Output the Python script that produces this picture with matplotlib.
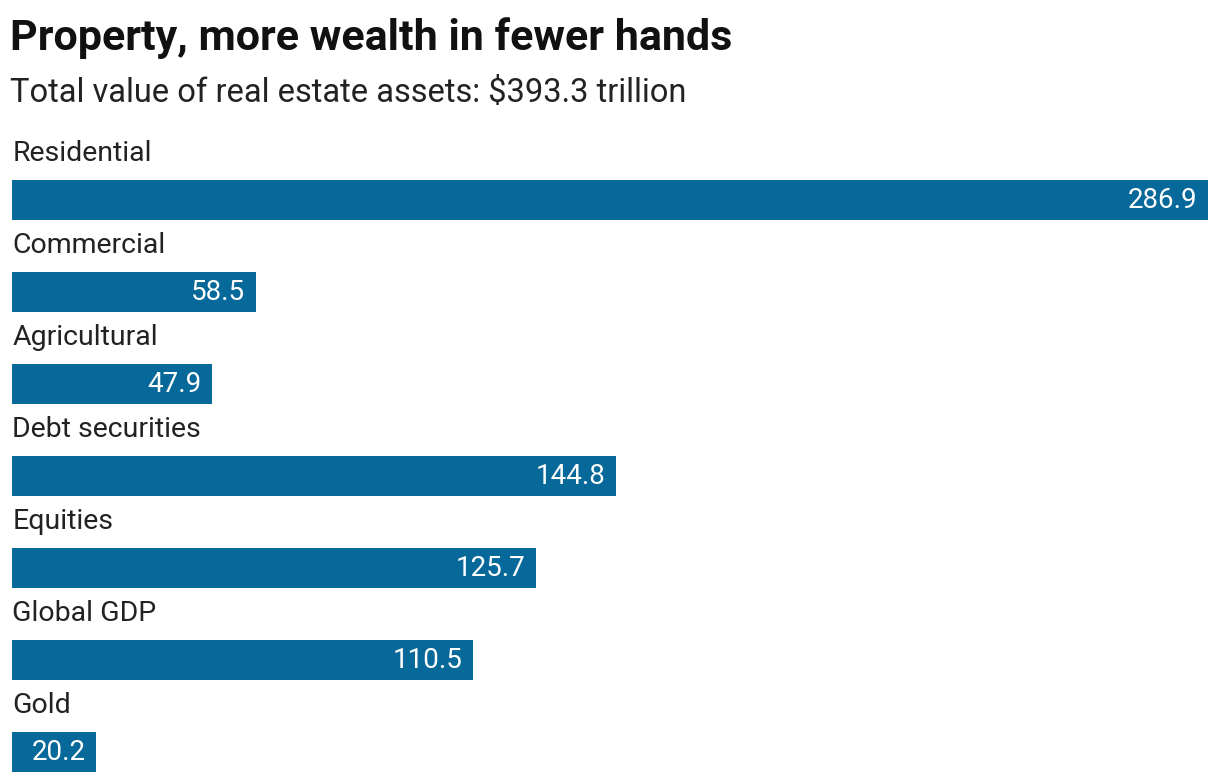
import matplotlib
matplotlib.use("Agg")
import matplotlib.pyplot as plt

categories = ["Residential", "Commercial", "Agricultural", "Debt securities",
              "Equities", "Global GDP", "Gold"]
values = [286.9, 58.5, 47.9, 144.8, 125.7, 110.5, 20.2]
title = "Property, more wealth in fewer hands"
subtitle = "Total value of real estate assets: $393.3 trillion"

bar_color = "#07689a"
plt.rcParams['font.family'] = ['Roboto', 'DejaVu Sans']

W, H = 1220, 782
fig = plt.figure(figsize=(W / 100, H / 100), dpi=100)
fig.patch.set_facecolor("white")

# axes spans full height; one category step = 92 px, first bar centre at 200 px
ax = fig.add_axes([12 / W, 0, (1208 - 12) / W, 1])
step, first = 92, 200
ax.set_ylim((H - first) / step, -first / step)
ax.set_xlim(0, max(values))
ax.axis("off")

pos = list(range(len(categories)))
ax.barh(pos, values, height=40 / step, color=bar_color, align="center")
for i, (c, v) in enumerate(zip(categories, values)):
    ax.text(0.1, i - 0.51, c, va="center", ha="left", fontsize=20.5, color="#222222")
    ax.text(v - 2.5, i + 0.01, f"{v:.1f}", va="center", ha="right",
            fontsize=20, color="white")

fig.text(10 / W, 1 - 38 / H, title, fontsize=31, fontweight="bold",
         va="center", ha="left", color="#111111")
fig.text(10 / W, 1 - 93 / H, subtitle, fontsize=23.5, va="center", ha="left",
         color="#222222")

fig.savefig("out.png", dpi=100)
